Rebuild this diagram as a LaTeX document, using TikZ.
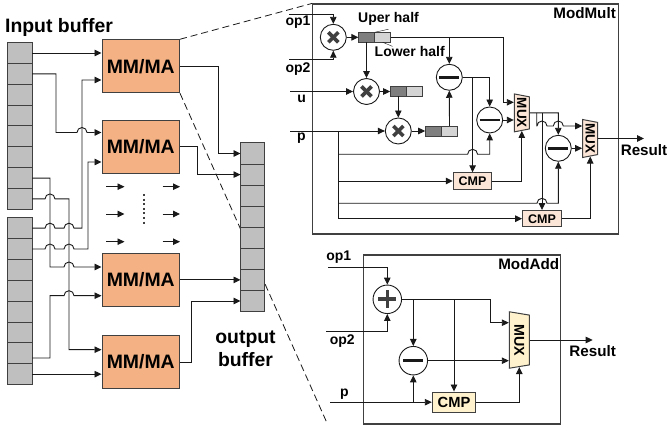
\documentclass[tikz,border=0pt]{standalone}
\usepackage{fontspec}
\setmainfont{Liberation Sans}
\usetikzlibrary{arrows.meta,positioning,calc,shapes.geometric}
\definecolor{Ink}{RGB}{25,25,25}
\definecolor{Edge}{RGB}{64,64,64}
\definecolor{CellGrey}{RGB}{191,191,191}
\definecolor{RegDark}{RGB}{127,127,127}
\definecolor{RegLight}{RGB}{212,212,212}
\definecolor{CoreOrange}{RGB}{244,177,131}
\definecolor{CmpPeach}{RGB}{251,229,214}
\definecolor{CmpCream}{RGB}{255,242,204}
\tikzset{
  cell/.style={draw=Edge, line width=1pt, fill=CellGrey, minimum width=24.5pt, minimum height=20.85pt, inner sep=0pt, outer sep=0pt},
  core/.style={draw=Edge, line width=1pt, fill=CoreOrange, minimum width=77.5pt, minimum height=53pt, inner sep=0pt,
    font=\fontsize{19.4}{22}\selectfont\bfseries},
  unitbox/.style={draw=Edge, line width=1.1pt, inner sep=0pt},
  bigtxt/.style={inner sep=0pt, align=center, font=\fontsize{19.4}{23}\selectfont\bfseries},
  midtxt/.style={inner sep=0pt, font=\fontsize{15.2}{17}\selectfont\bfseries},
  smalltxt/.style={inner sep=0pt, font=\fontsize{14}{16}\selectfont\bfseries},
  opcirc/.style={circle, draw=Ink, line width=0.9pt, fill=white, minimum size=#1, inner sep=0pt},
  opcirc/.default=26pt,
  multop/.style={opcirc, path picture={
    \draw[Edge, line width=3.6pt] ($(path picture bounding box.center)+(-5,-5)$) -- ($(path picture bounding box.center)+(5,5)$);
    \draw[Edge, line width=3.6pt] ($(path picture bounding box.center)+(-5,5)$) -- ($(path picture bounding box.center)+(5,-5)$);}},
  subop/.style={opcirc=#1, path picture={
    \draw[Ink, line width=2.6pt] ($(path picture bounding box.center)+(-10,0)$) -- ($(path picture bounding box.center)+(10,0)$);}},
  subop/.default=26pt,
  addop/.style={opcirc=28.5pt, path picture={
    \draw[Edge, line width=3.6pt] ($(path picture bounding box.center)+(-9,0)$) -- ($(path picture bounding box.center)+(9,0)$);
    \draw[Edge, line width=3.6pt] ($(path picture bounding box.center)+(0,-9)$) -- ($(path picture bounding box.center)+(0,9)$);}},
  regd/.style={draw=Edge, line width=0.8pt, fill=RegDark, minimum width=16.2pt, minimum height=10pt, inner sep=0pt, outer sep=0pt},
  regl/.style={regd, fill=RegLight},
  cmp/.style={draw=Edge, line width=1pt, fill=CmpPeach, inner sep=0pt, minimum width=38.7pt, minimum height=16.3pt,
    font=\fontsize{12.5}{14}\selectfont\bfseries},
  mux/.style={trapezium, trapezium stretches=true, trapezium angle=74, draw=Edge, line width=1pt, fill=CmpPeach, rotate=-90, inner sep=0pt,
    minimum height=15pt, minimum width=38pt, font=\fontsize{13.5}{15}\selectfont\bfseries},
  arr/.style={-{Triangle[length=7pt,width=6.5pt]}, draw=Ink, line width=0.9pt},
  wire/.style={draw=Ink, line width=0.9pt},
  lead/.style={draw=Ink, line width=0.4pt},
  zoomline/.style={draw=Ink, line width=0.8pt, dash pattern=on 7pt off 4pt},
}
\newcommand{\hop}[2]{-- (#1-5,#2) arc[start angle=180,end angle=0,radius=5pt]}

\begin{document}
\begin{tikzpicture}[x=1pt,y=-1pt]
\useasboundingbox (0,0) rectangle (667,435);

% ---------------- detail boxes, behind everything ----------------
\node[unitbox, minimum width=306pt, minimum height=230pt] (modmult) at (465.5,119) {};
\node[unitbox, minimum width=197.5pt, minimum height=169pt] (modadd) at (462,339.5) {};

% ---------------- MM/MA cores ----------------
\node[core] (mm1) at (140.75,66.25) {MM/MA};
\node[core] (mm2) at (140.75,146.75) {MM/MA};
\node[core] (mm3) at (140.75,279.9) {MM/MA};
\node[core] (mm4) at (140.75,362) {MM/MA};

% zoom lines run behind the output buffer
\coordinate (zoomend) at (327,423);
\draw[zoomline] (mm1.north east) -- (modmult.north west);
\draw[zoomline] (mm1.south east) -- (zoomend);

% ---------------- buffers ----------------
\node[cell] (ia1) at (19.75,53) {};
\foreach \i [remember=\i as \j (initially 1)] in {2,...,8}
  \node[cell, below=0pt of ia\j] (ia\i) {};
\node[cell] (ib1) at (19.75,228.2) {};
\foreach \i [remember=\i as \j (initially 1)] in {2,...,8}
  \node[cell, below=0pt of ib\j] (ib\i) {};
\node[cell, minimum width=24pt, minimum height=21.1pt] (ob1) at (252.5,153.5) {};
\foreach \i [remember=\i as \j (initially 1)] in {2,...,8}
  \node[cell, minimum width=24pt, minimum height=21.1pt, below=0pt of ob\j] (ob\i) {};

\node[bigtxt] (inlab) at (59,27) {Input buffer};
\node[bigtxt] (outlab) at (245.5,349) {output\\buffer};

% ---------------- buffer to core wiring ----------------
\draw[arr] (ia1.east) -- (mm1.west |- ia1.east);
\draw[arr] (ia2.east) -| (56,132.5) \hop{82}{132.5} -- (mm2.west |- 0,132.5);
\draw[arr] (ib1.east) \hop{50}{228.2} \hop{69}{228.2} -- (82,228.2) -- (82,80) -- (mm1.west |- 0,80);
\draw[arr] (ib2.east) \hop{50}{249.05} \hop{69}{249.05} -- (88,249.05) -- (88,162) -- (mm2.west |- 0,162);
\draw[arr] (ia7.east) -| (50,267) \hop{69}{267} -- (mm3.west |- 0,267);
\draw[arr] (ia8.east) \hop{50}{198.95} -- (69,198.95) -- (69,349.7) -- (mm4.west |- 0,349.7);
\draw[arr] (ib7.east |- 0,358) -- (50,358) -- (50,295.7) \hop{69}{295.7} -- (mm3.west |- 0,295.7);
\draw[arr] (ib8.east) -- (mm4.west |- ib8.east);

\draw[arr] (mm1.east) -- (218.7,66.25) -- (218.7,153.5) -- (ob1.west);
\draw[arr] (mm2.east) -- (197,146.75) -- (197,174.6) -- (ob2.west);
\draw[arr] (mm3.east) -- (ob7.west |- mm3.east);
\draw[arr] (mm4.east) -- (191,362) -- (191,301) -- (ob8.west |- 0,301);

% small arrows and dots between the second and third core
\foreach \y [count=\i] in {186.7,214,241.7} {
  \coordinate (fa\i) at (106,\y);   \coordinate (fb\i) at (124.5,\y);
  \coordinate (fc\i) at (162.5,\y); \coordinate (fd\i) at (180,\y);
  \draw[arr] (fa\i) -- (fb\i);
  \draw[arr] (fc\i) -- (fd\i);
}
\coordinate (dota) at (143.5,194);
\coordinate (dotb) at (143.5,226);
\draw[Edge, line width=2pt, dash pattern=on 2pt off 2.6pt] (dota) -- (dotb);

% ---------------- ModMult ----------------
\node[midtxt, anchor=east] (mmlab) at (616,13) {ModMult};
\node[multop] (mul1) at (333.3,37.3) {};
\node[multop] (mul2) at (366.5,91.5) {};
\node[multop] (mul3) at (398.3,131) {};
\node[subop] (sub1) at (449.3,77.3) {};
\node[subop] (sub2) at (489.7,120) {};
\node[subop] (sub3) at (558.3,148.3) {};

\node[regd] (r1d) at (366.5,37.3) {};
\node[regl, right=0pt of r1d] (r1l) {};
\node[regd] (r2d) at (398.3,91.5) {};
\node[regl, right=0pt of r2d] (r2l) {};
\node[regd] (r3d) at (433.3,131) {};
\node[regl, right=0pt of r3d] (r3l) {};

\node[cmp] (cmp1) at (472.6,181) {CMP};
\node[cmp] (cmp2) at (542,218.7) {CMP};
\node[mux] (mux1) at (521.8,112.9) {MUX};
\node[mux] (mux2) at (590.2,138.5) {MUX};

\node[smalltxt] (oplab1) at (298,22.5) {op1};
\node[smalltxt] (oplab2) at (298,69) {op2};
\node[smalltxt] (ulab) at (301.7,98.8) {u};
\node[smalltxt] (plab) at (301.5,138.5) {p};
\node[smalltxt] (uplab) at (388.5,18.5) {Uper half};
\node[smalltxt] (lolab) at (409.7,51.7) {Lower half};
\node[midtxt] (reslab1) at (644,150) {Result};

\coordinate (op1in) at (289,14.7);
\coordinate (op2in) at (289,59.3);
\coordinate (uin) at (290,91.5);
\coordinate (pin) at (290,131);

\draw[lead] (r1d.north east) -- ($(uplab.south)+(0,4)$);
\draw[lead] (r1l.south) -- ($(lolab.north west)+(18,0)$);

\draw[arr] (op1in) -| (mul1.north);
\draw[arr] (op2in) -| (mul1.south);
\draw[arr] (uin) -- (mul2.west);
\draw[arr] (pin) -- (mul3.west);
\draw[arr] (mul1.east) -- (r1d.west);
\draw[arr] (mul2.east) -- (r2d.west);
\draw[arr] (mul3.east) -- (r3d.west);
\draw[arr] (r1d.south) -- (mul2.north);
\draw[arr] (r2d.south) -- (mul3.north);
\draw[arr] (sub1.north |- r1l.east) -- (sub1.north);
\draw[arr] (r3l.north) -- (sub1.south);
\draw[arr] (r1l.east) -- (503.3,37.3) -- (503.3,102.3) -- (mux1.south |- 0,102.3);
\draw[arr] (sub1.east) -- (489.7,77.3) -- (sub2.north);
\draw[arr] (cmp1.north |- sub1.east) -- (cmp1.north);
\draw[arr] (sub2.east) -- (mux1.south |- sub2.east);

% p is fanned out to the comparators and the subtractors
\draw[wire] (338.3,131) -- (338.3,218.7);
\draw[arr] (338.3,154.3) \hop{472.6}{154.3} -- (489.7,154.3) -- (sub2.south);
\draw[arr] (338.3,181) -- (cmp1.west);
\draw[arr] (338.3,203.3) \hop{542}{203.3} -- (558.3,203.3) -- (sub3.south);
\draw[arr] (338.3,218.7) -- (cmp2.west);

\draw[arr] (cmp1.east) -| (mux1.east);
\draw[arr] (cmp2.east) -| (mux2.east);
\draw[arr] (mux1.north) -- (558.3,112.9) -- (sub3.north);
\draw[arr] (cmp2.north |- mux1.north) -- (cmp2.north);
\draw[arr] (536.7,112.9) -- (536.7,126) \hop{542}{126} \hop{558.3}{126} -- (mux2.south |- 0,126);
\draw[arr] (sub3.east) -- (mux2.south |- sub3.east);
\draw[arr] (mux2.north) -- (mux2.north -| reslab1.north);

% ---------------- ModAdd ----------------
\node[midtxt, anchor=east] (malab) at (559.3,264) {ModAdd};
\node[addop] (add1) at (387.3,299.3) {};
\node[subop=28.5pt] (sub4) at (413.3,360.7) {};
\node[cmp, fill=CmpCream, minimum width=43.4pt, minimum height=20.3pt, font=\fontsize{14.7}{16}\selectfont\bfseries] (cmp3) at (454,402.2) {CMP};
\node[mux, fill=CmpCream, minimum height=20pt, minimum width=56.6pt, trapezium angle=78, font=\fontsize{14.3}{16}\selectfont\bfseries] (mux3) at (519.3,340) {MUX};

\node[smalltxt] (oplab3) at (338.7,257.5) {op1};
\node[smalltxt] (oplab4) at (342.3,341) {op2};
\node[smalltxt] (plab2) at (344.3,394.5) {p};
\node[midtxt] (reslab2) at (592.7,351) {Result};

\coordinate (op3in) at (328.3,267);
\coordinate (op4in) at (326,331.7);
\coordinate (p2in) at (330,402.2);

\draw[arr] (op3in) -| (add1.north);
\draw[arr] (op4in) -| (add1.south);
\draw[arr] (add1.east) -- (490.7,299.3) -- (490.7,322.7) -- (mux3.south |- 0,322.7);
\draw[arr] (sub4.north |- add1.east) -- (sub4.north);
\draw[arr] (cmp3.north |- add1.east) -- (cmp3.north);
\draw[arr] (sub4.east) -- (mux3.south |- sub4.east);
\draw[arr] (p2in) -- (cmp3.west);
\draw[arr] (sub4.south |- p2in) -- (sub4.south);
\draw[arr] (cmp3.east) -| (mux3.east);
\draw[arr] (mux3.north) -- (mux3.north -| reslab2.north);

\end{tikzpicture}
\end{document}
